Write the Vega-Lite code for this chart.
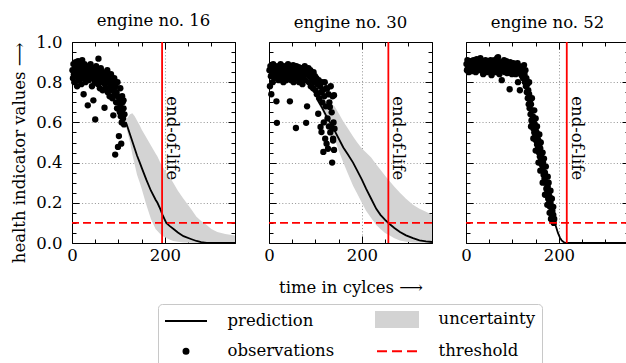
{
  "$schema": "https://vega.github.io/schema/vega-lite/v6.json",
  "padding": {"left": 11, "top": 12, "right": 0, "bottom": 0},
  "spacing": 23,
  "datasets": {
    "obs": [
      {"e":16,"t":1,"v":0.86},{"e":16,"t":2,"v":0.82},{"e":16,"t":3,"v":0.89},{"e":16,"t":4,"v":0.84},{"e":16,"t":5,"v":0.80},{"e":16,"t":6,"v":0.87},{"e":16,"t":7,"v":0.85},{"e":16,"t":8,"v":0.90},{"e":16,"t":9,"v":0.83},{"e":16,"t":10,"v":0.88},
      {"e":16,"t":11,"v":0.78},{"e":16,"t":12,"v":0.86},{"e":16,"t":13,"v":0.905},{"e":16,"t":14,"v":0.84},{"e":16,"t":15,"v":0.81},{"e":16,"t":16,"v":0.87},{"e":16,"t":17,"v":0.89},{"e":16,"t":18,"v":0.83},{"e":16,"t":19,"v":0.86},{"e":16,"t":20,"v":0.79},
      {"e":16,"t":21,"v":0.88},{"e":16,"t":22,"v":0.91},{"e":16,"t":23,"v":0.85},{"e":16,"t":24,"v":0.82},{"e":16,"t":25,"v":0.74},{"e":16,"t":26,"v":0.87},{"e":16,"t":27,"v":0.89},{"e":16,"t":28,"v":0.84},{"e":16,"t":29,"v":0.80},{"e":16,"t":30,"v":0.86},
      {"e":16,"t":31,"v":0.88},{"e":16,"t":32,"v":0.83},{"e":16,"t":34,"v":0.685},{"e":16,"t":35,"v":0.85},{"e":16,"t":36,"v":0.81},{"e":16,"t":37,"v":0.87},{"e":16,"t":38,"v":0.84},{"e":16,"t":40,"v":0.89},{"e":16,"t":41,"v":0.82},{"e":16,"t":42,"v":0.86},
      {"e":16,"t":43,"v":0.78},{"e":16,"t":44,"v":0.84},{"e":16,"t":46,"v":0.71},{"e":16,"t":47,"v":0.87},{"e":16,"t":48,"v":0.83},{"e":16,"t":49,"v":0.80},{"e":16,"t":50,"v":0.615},{"e":16,"t":51,"v":0.85},{"e":16,"t":52,"v":0.88},{"e":16,"t":53,"v":0.82},
      {"e":16,"t":55,"v":0.84},{"e":16,"t":56,"v":0.79},{"e":16,"t":57,"v":0.917},{"e":16,"t":58,"v":0.86},{"e":16,"t":59,"v":0.81},{"e":16,"t":60,"v":0.77},{"e":16,"t":61,"v":0.84},{"e":16,"t":62,"v":0.87},{"e":16,"t":63,"v":0.80},{"e":16,"t":65,"v":0.83},
      {"e":16,"t":66,"v":0.76},{"e":16,"t":67,"v":0.85},{"e":16,"t":68,"v":0.81},{"e":16,"t":70,"v":0.673},{"e":16,"t":71,"v":0.79},{"e":16,"t":72,"v":0.84},{"e":16,"t":73,"v":0.77},{"e":16,"t":74,"v":0.82},{"e":16,"t":76,"v":0.86},{"e":16,"t":77,"v":0.75},
      {"e":16,"t":78,"v":0.80},{"e":16,"t":79,"v":0.83},{"e":16,"t":81,"v":0.73},{"e":16,"t":82,"v":0.81},{"e":16,"t":83,"v":0.78},{"e":16,"t":84,"v":0.84},{"e":16,"t":85,"v":0.76},{"e":16,"t":86,"v":0.80},{"e":16,"t":87,"v":0.72},{"e":16,"t":88,"v":0.79},
      {"e":16,"t":89,"v":0.635},{"e":16,"t":90,"v":0.77},{"e":16,"t":91,"v":0.82},{"e":16,"t":92,"v":0.74},{"e":16,"t":93,"v":0.44},{"e":16,"t":94,"v":0.78},{"e":16,"t":95,"v":0.70},{"e":16,"t":96,"v":0.75},{"e":16,"t":97,"v":0.67},{"e":16,"t":98,"v":0.80},
      {"e":16,"t":98,"v":0.73},{"e":16,"t":99,"v":0.478},{"e":16,"t":100,"v":0.668},{"e":16,"t":101,"v":0.532},{"e":16,"t":102,"v":0.71},{"e":16,"t":103,"v":0.65},{"e":16,"t":104,"v":0.77},{"e":16,"t":104,"v":0.69},{"e":16,"t":105,"v":0.63},{"e":16,"t":106,"v":0.494},
      {"e":16,"t":107,"v":0.60},{"e":16,"t":108,"v":0.73},{"e":16,"t":108,"v":0.66},{"e":16,"t":109,"v":0.70},{"e":16,"t":110,"v":0.62},{"e":16,"t":111,"v":0.71},{"e":16,"t":111,"v":0.67},{"e":16,"t":112,"v":0.59},{"e":16,"t":113,"v":0.64},

      {"e":30,"t":1,"v":0.86},{"e":30,"t":2,"v":0.78},{"e":30,"t":3,"v":0.88},{"e":30,"t":4,"v":0.83},{"e":30,"t":5,"v":0.74},{"e":30,"t":6,"v":0.87},{"e":30,"t":7,"v":0.85},{"e":30,"t":8,"v":0.80},{"e":30,"t":9,"v":0.89},{"e":30,"t":10,"v":0.84},
      {"e":30,"t":11,"v":0.87},{"e":30,"t":12,"v":0.82},{"e":30,"t":13,"v":0.88},{"e":30,"t":14,"v":0.85},{"e":30,"t":16,"v":0.705},{"e":30,"t":17,"v":0.598},{"e":30,"t":18,"v":0.86},{"e":30,"t":19,"v":0.83},{"e":30,"t":20,"v":0.88},{"e":30,"t":21,"v":0.81},
      {"e":30,"t":22,"v":0.87},{"e":30,"t":24,"v":0.84},{"e":30,"t":25,"v":0.89},{"e":30,"t":26,"v":0.82},{"e":30,"t":27,"v":0.86},{"e":30,"t":28,"v":0.83},{"e":30,"t":30,"v":0.88},{"e":30,"t":31,"v":0.80},{"e":30,"t":32,"v":0.85},{"e":30,"t":33,"v":0.87},
      {"e":30,"t":35,"v":0.83},{"e":30,"t":36,"v":0.88},{"e":30,"t":37,"v":0.81},{"e":30,"t":38,"v":0.86},{"e":30,"t":40,"v":0.84},{"e":30,"t":41,"v":0.89},{"e":30,"t":42,"v":0.82},{"e":30,"t":43,"v":0.86},{"e":30,"t":45,"v":0.705},{"e":30,"t":46,"v":0.85},
      {"e":30,"t":47,"v":0.88},{"e":30,"t":48,"v":0.81},{"e":30,"t":50,"v":0.87},{"e":30,"t":51,"v":0.83},{"e":30,"t":52,"v":0.885},{"e":30,"t":53,"v":0.80},{"e":30,"t":55,"v":0.86},{"e":30,"t":56,"v":0.84},{"e":30,"t":58,"v":0.572},{"e":30,"t":59,"v":0.88},
      {"e":30,"t":60,"v":0.82},{"e":30,"t":61,"v":0.86},{"e":30,"t":63,"v":0.83},{"e":30,"t":64,"v":0.875},{"e":30,"t":65,"v":0.80},{"e":30,"t":67,"v":0.85},{"e":30,"t":68,"v":0.82},{"e":30,"t":70,"v":0.87},{"e":30,"t":71,"v":0.84},{"e":30,"t":72,"v":0.79},
      {"e":30,"t":74,"v":0.86},{"e":30,"t":75,"v":0.83},{"e":30,"t":77,"v":0.88},{"e":30,"t":78,"v":0.81},{"e":30,"t":80,"v":0.598},{"e":30,"t":81,"v":0.85},{"e":30,"t":82,"v":0.68},{"e":30,"t":83,"v":0.84},{"e":30,"t":85,"v":0.87},{"e":30,"t":86,"v":0.80},
      {"e":30,"t":88,"v":0.83},{"e":30,"t":89,"v":0.86},{"e":30,"t":90,"v":0.78},{"e":30,"t":92,"v":0.84},{"e":30,"t":93,"v":0.81},{"e":30,"t":95,"v":0.77},{"e":30,"t":96,"v":0.85},{"e":30,"t":98,"v":0.80},{"e":30,"t":99,"v":0.83},{"e":30,"t":100,"v":0.76},
      {"e":30,"t":102,"v":0.82},{"e":30,"t":103,"v":0.74},{"e":30,"t":104,"v":0.79},{"e":30,"t":106,"v":0.643},{"e":30,"t":107,"v":0.81},{"e":30,"t":108,"v":0.72},{"e":30,"t":110,"v":0.78},{"e":30,"t":111,"v":0.577},{"e":30,"t":112,"v":0.75},{"e":30,"t":113,"v":0.552},
      {"e":30,"t":114,"v":0.80},{"e":30,"t":115,"v":0.70},{"e":30,"t":116,"v":0.76},{"e":30,"t":117,"v":0.453},{"e":30,"t":118,"v":0.60},{"e":30,"t":119,"v":0.73},{"e":30,"t":120,"v":0.80},{"e":30,"t":121,"v":0.519},{"e":30,"t":122,"v":0.68},{"e":30,"t":123,"v":0.77},
      {"e":30,"t":124,"v":0.494},{"e":30,"t":125,"v":0.768},{"e":30,"t":126,"v":0.62},{"e":30,"t":127,"v":0.469},{"e":30,"t":128,"v":0.74},{"e":30,"t":129,"v":0.58},{"e":30,"t":130,"v":0.70},{"e":30,"t":131,"v":0.677},{"e":30,"t":132,"v":0.55},{"e":30,"t":133,"v":0.78},
      {"e":30,"t":134,"v":0.577},{"e":30,"t":135,"v":0.65},{"e":30,"t":136,"v":0.40},{"e":30,"t":137,"v":0.73},{"e":30,"t":138,"v":0.519},{"e":30,"t":139,"v":0.60},{"e":30,"t":140,"v":0.463},{"e":30,"t":141,"v":0.569},{"e":30,"t":140,"v":0.735},{"e":30,"t":138,"v":0.51},

      {"e":52,"t":1,"v":0.89},{"e":52,"t":2,"v":0.86},{"e":52,"t":3,"v":0.91},{"e":52,"t":4,"v":0.87},{"e":52,"t":5,"v":0.895},{"e":52,"t":6,"v":0.85},{"e":52,"t":7,"v":0.90},{"e":52,"t":8,"v":0.88},{"e":52,"t":9,"v":0.865},{"e":52,"t":10,"v":0.905},
      {"e":52,"t":11,"v":0.87},{"e":52,"t":12,"v":0.89},{"e":52,"t":13,"v":0.855},{"e":52,"t":14,"v":0.90},{"e":52,"t":15,"v":0.88},{"e":52,"t":16,"v":0.91},{"e":52,"t":17,"v":0.86},{"e":52,"t":18,"v":0.895},{"e":52,"t":19,"v":0.875},{"e":52,"t":20,"v":0.90},
      {"e":52,"t":21,"v":0.85},{"e":52,"t":22,"v":0.89},{"e":52,"t":23,"v":0.915},{"e":52,"t":24,"v":0.87},{"e":52,"t":25,"v":0.895},{"e":52,"t":26,"v":0.86},{"e":52,"t":27,"v":0.90},{"e":52,"t":28,"v":0.88},{"e":52,"t":29,"v":0.91},{"e":52,"t":30,"v":0.865},
      {"e":52,"t":31,"v":0.92},{"e":52,"t":32,"v":0.89},{"e":52,"t":33,"v":0.87},{"e":52,"t":34,"v":0.90},{"e":52,"t":35,"v":0.855},{"e":52,"t":36,"v":0.885},{"e":52,"t":37,"v":0.84},{"e":52,"t":38,"v":0.905},{"e":52,"t":39,"v":0.87},{"e":52,"t":40,"v":0.89},
      {"e":52,"t":41,"v":0.86},{"e":52,"t":42,"v":0.91},{"e":52,"t":43,"v":0.875},{"e":52,"t":44,"v":0.895},{"e":52,"t":45,"v":0.85},{"e":52,"t":46,"v":0.90},{"e":52,"t":47,"v":0.88},{"e":52,"t":48,"v":0.865},{"e":52,"t":49,"v":0.905},{"e":52,"t":50,"v":0.87},
      {"e":52,"t":51,"v":0.89},{"e":52,"t":52,"v":0.855},{"e":52,"t":53,"v":0.91},{"e":52,"t":54,"v":0.88},{"e":52,"t":55,"v":0.835},{"e":52,"t":56,"v":0.895},{"e":52,"t":57,"v":0.87},{"e":52,"t":58,"v":0.90},{"e":52,"t":59,"v":0.86},{"e":52,"t":60,"v":0.885},
      {"e":52,"t":61,"v":0.91},{"e":52,"t":62,"v":0.865},{"e":52,"t":63,"v":0.89},{"e":52,"t":64,"v":0.85},{"e":52,"t":65,"v":0.905},{"e":52,"t":66,"v":0.875},{"e":52,"t":67,"v":0.92},{"e":52,"t":68,"v":0.86},{"e":52,"t":69,"v":0.925},{"e":52,"t":70,"v":0.88},
      {"e":52,"t":71,"v":0.895},{"e":52,"t":72,"v":0.84},{"e":52,"t":73,"v":0.90},{"e":52,"t":74,"v":0.87},{"e":52,"t":75,"v":0.885},{"e":52,"t":76,"v":0.855},{"e":52,"t":77,"v":0.81},{"e":52,"t":78,"v":0.90},{"e":52,"t":79,"v":0.87},{"e":52,"t":80,"v":0.895},
      {"e":52,"t":81,"v":0.86},{"e":52,"t":82,"v":0.91},{"e":52,"t":83,"v":0.875},{"e":52,"t":84,"v":0.85},{"e":52,"t":85,"v":0.89},{"e":52,"t":86,"v":0.865},{"e":52,"t":87,"v":0.905},{"e":52,"t":88,"v":0.88},{"e":52,"t":89,"v":0.845},{"e":52,"t":90,"v":0.895},
      {"e":52,"t":91,"v":0.87},{"e":52,"t":92,"v":0.885},{"e":52,"t":93,"v":0.855},{"e":52,"t":94,"v":0.765},{"e":52,"t":95,"v":0.90},{"e":52,"t":96,"v":0.875},{"e":52,"t":97,"v":0.86},{"e":52,"t":98,"v":0.89},{"e":52,"t":99,"v":0.84},{"e":52,"t":100,"v":0.88},
      {"e":52,"t":101,"v":0.865},{"e":52,"t":102,"v":0.895},{"e":52,"t":103,"v":0.85},{"e":52,"t":104,"v":0.875},{"e":52,"t":105,"v":0.89},{"e":52,"t":106,"v":0.86},{"e":52,"t":107,"v":0.84},{"e":52,"t":108,"v":0.885},{"e":52,"t":109,"v":0.87},{"e":52,"t":110,"v":0.85},
      {"e":52,"t":111,"v":0.895},{"e":52,"t":112,"v":0.80},{"e":52,"t":113,"v":0.87},{"e":52,"t":114,"v":0.855},{"e":52,"t":115,"v":0.88},{"e":52,"t":116,"v":0.76},{"e":52,"t":117,"v":0.865},{"e":52,"t":118,"v":0.84},{"e":52,"t":119,"v":0.875},{"e":52,"t":120,"v":0.85},
      {"e":52,"t":121,"v":0.83},{"e":52,"t":122,"v":0.87},{"e":52,"t":123,"v":0.82},{"e":52,"t":124,"v":0.855},{"e":52,"t":125,"v":0.885},{"e":52,"t":126,"v":0.84},{"e":52,"t":127,"v":0.80},{"e":52,"t":128,"v":0.86},{"e":52,"t":129,"v":0.78},{"e":52,"t":130,"v":0.82},
      {"e":52,"t":131,"v":0.75},{"e":52,"t":132,"v":0.79},{"e":52,"t":133,"v":0.72},{"e":52,"t":134,"v":0.76},{"e":52,"t":135,"v":0.69},{"e":52,"t":136,"v":0.74},{"e":52,"t":137,"v":0.67},{"e":52,"t":138,"v":0.71},{"e":52,"t":139,"v":0.64},{"e":52,"t":140,"v":0.69},
      {"e":52,"t":141,"v":0.61},{"e":52,"t":142,"v":0.66},{"e":52,"t":143,"v":0.59},{"e":52,"t":144,"v":0.63},{"e":52,"t":145,"v":0.57},{"e":52,"t":146,"v":0.61},{"e":52,"t":147,"v":0.55},{"e":52,"t":148,"v":0.59},{"e":52,"t":149,"v":0.53},{"e":52,"t":150,"v":0.57},
      {"e":52,"t":151,"v":0.51},{"e":52,"t":152,"v":0.55},{"e":52,"t":153,"v":0.49},{"e":52,"t":154,"v":0.53},{"e":52,"t":155,"v":0.47},{"e":52,"t":156,"v":0.51},{"e":52,"t":157,"v":0.45},{"e":52,"t":158,"v":0.49},{"e":52,"t":159,"v":0.43},{"e":52,"t":160,"v":0.47},
      {"e":52,"t":161,"v":0.41},{"e":52,"t":162,"v":0.44},{"e":52,"t":163,"v":0.39},{"e":52,"t":164,"v":0.42},{"e":52,"t":165,"v":0.37},{"e":52,"t":166,"v":0.40},{"e":52,"t":167,"v":0.34},{"e":52,"t":168,"v":0.38},{"e":52,"t":169,"v":0.32},{"e":52,"t":170,"v":0.35},
      {"e":52,"t":171,"v":0.30},{"e":52,"t":172,"v":0.33},{"e":52,"t":173,"v":0.27},{"e":52,"t":174,"v":0.30},{"e":52,"t":175,"v":0.25},{"e":52,"t":176,"v":0.28},{"e":52,"t":177,"v":0.22},{"e":52,"t":178,"v":0.25},{"e":52,"t":179,"v":0.20},{"e":52,"t":180,"v":0.23},
      {"e":52,"t":181,"v":0.18},{"e":52,"t":182,"v":0.20},{"e":52,"t":183,"v":0.15},{"e":52,"t":184,"v":0.18},{"e":52,"t":185,"v":0.13},{"e":52,"t":186,"v":0.16},{"e":52,"t":187,"v":0.11},{"e":52,"t":188,"v":0.14},{"e":52,"t":189,"v":0.10},{"e":52,"t":190,"v":0.12},
      {"e":52,"t":136,"v":0.80},{"e":52,"t":142,"v":0.72},{"e":52,"t":147,"v":0.66},{"e":52,"t":150,"v":0.62},{"e":52,"t":153,"v":0.58},{"e":52,"t":158,"v":0.54},{"e":52,"t":161,"v":0.50},{"e":52,"t":165,"v":0.45},{"e":52,"t":168,"v":0.42},{"e":52,"t":172,"v":0.38},
      {"e":52,"t":176,"v":0.33},{"e":52,"t":178,"v":0.30},{"e":52,"t":182,"v":0.26},{"e":52,"t":185,"v":0.22},{"e":52,"t":188,"v":0.18},{"e":52,"t":140,"v":0.58},{"e":52,"t":145,"v":0.52},{"e":52,"t":150,"v":0.46},{"e":52,"t":156,"v":0.40},{"e":52,"t":160,"v":0.36},
      {"e":52,"t":165,"v":0.30},{"e":52,"t":170,"v":0.24},{"e":52,"t":175,"v":0.19},{"e":52,"t":180,"v":0.15},{"e":52,"t":183,"v":0.12}
    ],
    "pred": [
      {"e":16,"t":116,"v":0.60,"lo":0.585,"hi":0.61},{"e":16,"t":120,"v":0.575,"lo":0.545,"hi":0.625},{"e":16,"t":125,"v":0.54,"lo":0.50,"hi":0.64},{"e":16,"t":130,"v":0.505,"lo":0.44,"hi":0.645},
      {"e":16,"t":135,"v":0.47,"lo":0.39,"hi":0.63},{"e":16,"t":140,"v":0.435,"lo":0.34,"hi":0.61},{"e":16,"t":146,"v":0.40,"lo":0.30,"hi":0.585},{"e":16,"t":150,"v":0.375,"lo":0.27,"hi":0.565},
      {"e":16,"t":160,"v":0.315,"lo":0.19,"hi":0.525},{"e":16,"t":170,"v":0.26,"lo":0.12,"hi":0.485},{"e":16,"t":180,"v":0.215,"lo":0.07,"hi":0.445},{"e":16,"t":184,"v":0.20,"lo":0.06,"hi":0.43},
      {"e":16,"t":190,"v":0.17,"lo":0.045,"hi":0.40},{"e":16,"t":195,"v":0.14,"lo":0.035,"hi":0.38},{"e":16,"t":203,"v":0.10,"lo":0.025,"hi":0.35},{"e":16,"t":210,"v":0.085,"lo":0.017,"hi":0.33},
      {"e":16,"t":218,"v":0.071,"lo":0.01,"hi":0.30},{"e":16,"t":228,"v":0.052,"lo":0.006,"hi":0.26},{"e":16,"t":240,"v":0.034,"lo":0.003,"hi":0.22},{"e":16,"t":256,"v":0.02,"lo":0.001,"hi":0.17},
      {"e":16,"t":268,"v":0.01,"lo":0,"hi":0.13},{"e":16,"t":278,"v":0.004,"lo":0,"hi":0.11},{"e":16,"t":290,"v":0.001,"lo":0,"hi":0.09},{"e":16,"t":300,"v":0,"lo":0,"hi":0.07},
      {"e":16,"t":313,"v":0,"lo":0,"hi":0.055},{"e":16,"t":330,"v":0,"lo":0,"hi":0.045},{"e":16,"t":351,"v":0,"lo":0,"hi":0.037},

      {"e":30,"t":105,"v":0.71,"lo":0.70,"hi":0.72},{"e":30,"t":115,"v":0.67,"lo":0.655,"hi":0.70},{"e":30,"t":125,"v":0.625,"lo":0.60,"hi":0.71},{"e":30,"t":135,"v":0.585,"lo":0.555,"hi":0.69},
      {"e":30,"t":141,"v":0.56,"lo":0.52,"hi":0.68},{"e":30,"t":150,"v":0.52,"lo":0.46,"hi":0.645},{"e":30,"t":160,"v":0.475,"lo":0.40,"hi":0.605},{"e":30,"t":170,"v":0.44,"lo":0.345,"hi":0.57},
      {"e":30,"t":181,"v":0.40,"lo":0.285,"hi":0.53},{"e":30,"t":190,"v":0.36,"lo":0.245,"hi":0.50},{"e":30,"t":200,"v":0.315,"lo":0.20,"hi":0.47},{"e":30,"t":209,"v":0.27,"lo":0.16,"hi":0.45},
      {"e":30,"t":220,"v":0.22,"lo":0.125,"hi":0.425},{"e":30,"t":231,"v":0.17,"lo":0.09,"hi":0.39},{"e":30,"t":240,"v":0.14,"lo":0.07,"hi":0.365},{"e":30,"t":250,"v":0.115,"lo":0.05,"hi":0.335},
      {"e":30,"t":259,"v":0.096,"lo":0.038,"hi":0.31},{"e":30,"t":270,"v":0.075,"lo":0.024,"hi":0.28},{"e":30,"t":282,"v":0.055,"lo":0.013,"hi":0.25},{"e":30,"t":295,"v":0.038,"lo":0.006,"hi":0.22},
      {"e":30,"t":310,"v":0.024,"lo":0.003,"hi":0.19},{"e":30,"t":324,"v":0.013,"lo":0.001,"hi":0.17},{"e":30,"t":338,"v":0.008,"lo":0,"hi":0.155},{"e":30,"t":351,"v":0.005,"lo":0,"hi":0.14},

      {"e":52,"t":186,"v":0.14,"lo":0.135,"hi":0.145},{"e":52,"t":190,"v":0.11,"lo":0.104,"hi":0.116},{"e":52,"t":194,"v":0.08,"lo":0.074,"hi":0.086},{"e":52,"t":198,"v":0.05,"lo":0.045,"hi":0.056},
      {"e":52,"t":202,"v":0.028,"lo":0.024,"hi":0.033},{"e":52,"t":206,"v":0.013,"lo":0.01,"hi":0.017},{"e":52,"t":210,"v":0.005,"lo":0.003,"hi":0.008},{"e":52,"t":214,"v":0.001,"lo":0,"hi":0.003},
      {"e":52,"t":220,"v":0,"lo":0,"hi":0.001},{"e":52,"t":351,"v":0,"lo":0,"hi":0}
    ],
    "eol": [{"e":16,"t":194},{"e":30,"t":257},{"e":52,"t":217}],
    "thr": [{"v":0.1}]
  },
  "hconcat": [
    {
      "width": 163, "height": 201,
      "title": {"text": "engine no. 16", "font": "DejaVu Serif", "fontSize": 16.5, "fontWeight": "normal", "color": "black", "anchor": "middle", "frame": "group", "baseline": "alphabetic", "offset": -8},
      "resolve": {"axis": {"x": "independent", "y": "independent"}},
      "layer": [
        {
          "data": {"name": "pred"}, "transform": [{"filter": "datum.e === 16"}],
          "mark": {"type": "area"},
          "encoding": {
            "x": {"field": "t", "type": "quantitative", "scale": {"domain": [0, 351], "nice": false, "zero": false},
              "axis": {"orient": "bottom", "values": [0,50,100,150,200,250,300,350], "format": "d", "labelExpr": "datum.value % 200 === 0 ? datum.label : ''",
                "tickSize": {"condition": {"test": "datum.value % 200 === 0", "value": -7}, "value": -4}, "labelPadding": 11.5,
                "grid": true, "gridOpacity": {"condition": {"test": "datum.value === 200", "value": 1}, "value": 0}, "title": null}},
            "y": {"field": "lo", "type": "quantitative", "scale": {"domain": [0, 1], "nice": false},
              "axis": {"orient": "left", "values": [0,0.05,0.1,0.15,0.2,0.25,0.3,0.35,0.4,0.45,0.5,0.55,0.6,0.65,0.7,0.75,0.8,0.85,0.9,0.95,1],
                "labelExpr": "abs(datum.value*5 - round(datum.value*5)) < 0.001 ? format(datum.value, '.1f') : ''",
                "tickSize": {"condition": {"test": "abs(datum.value*5 - round(datum.value*5)) < 0.001", "value": -7}, "value": -4}, "labelPadding": 17,
                "grid": true, "gridOpacity": {"condition": {"test": "abs(datum.value*5 - round(datum.value*5)) < 0.001 && datum.value > 0.01 && datum.value < 0.99", "value": 1}, "value": 0},
                "title": "health indicator values ⟶", "titlePadding": 8, "titleAnchor": "end"}},
            "y2": {"field": "hi"},
            "color": {"datum": "uncertainty", "type": "nominal",
              "scale": {"domain": ["prediction", "observations", "uncertainty", "threshold"], "range": ["black", "black", "#d3d3d3", "red"]},
              "legend": {
                "orient": "none", "legendX": 86, "legendY": 262, "title": null, "columns": 2, "columnPadding": 37, "rowPadding": 12,
                "padding": 7, "strokeColor": "#c8c8c8", "cornerRadius": 4, "fillColor": "white",
                "labelFont": "DejaVu Serif", "labelFontSize": 16.5, "labelColor": "black", "labelOffset": 46,
                "symbolSize": 100, "symbolStrokeWidth": 2,
                "encode": {"symbols": {"update": {
                  "x": {"value": 21},
                  "shape": {"signal": "datum.value === 'observations' ? 'M0.5,0A0.5,0.5,0,1,1,-0.5,0A0.5,0.5,0,1,1,0.5,0Z' : datum.value === 'uncertainty' ? 'M-4.2,-1.5H4.2V1.5H-4.2Z' : datum.value === 'threshold' ? 'M-4,0H-2M-1,0H1M2,0H4' : 'M-4.2,0H4.2'"},
                  "fill": {"signal": "datum.value === 'observations' ? 'black' : datum.value === 'uncertainty' ? '#d3d3d3' : 'transparent'"},
                  "stroke": {"signal": "datum.value === 'prediction' ? 'black' : datum.value === 'threshold' ? 'red' : 'transparent'"},
                  "strokeWidth": {"value": 2},
                  "opacity": {"value": 1}
                }}}
              }}
          }
        },
        {
          "data": {"name": "pred"}, "transform": [{"filter": "datum.e === 16"}],
          "mark": {"type": "line", "strokeWidth": 1.8},
          "encoding": {
            "x": {"field": "t", "type": "quantitative",
              "axis": {"orient": "top", "values": [0,50,100,150,200,250,300,350], "labels": false, "grid": false, "title": null,
                "tickSize": {"condition": {"test": "datum.value % 200 === 0", "value": -7}, "value": -4}}},
            "y": {"field": "v", "type": "quantitative",
              "axis": {"orient": "right", "values": [0,0.05,0.1,0.15,0.2,0.25,0.3,0.35,0.4,0.45,0.5,0.55,0.6,0.65,0.7,0.75,0.8,0.85,0.9,0.95,1], "labels": false, "grid": false, "title": null,
                "tickSize": {"condition": {"test": "abs(datum.value*5 - round(datum.value*5)) < 0.001", "value": -7}, "value": -4}}},
            "color": {"datum": "prediction", "type": "nominal"}
          }
        },
        {
          "data": {"name": "obs"}, "transform": [{"filter": "datum.e === 16"}],
          "mark": {"type": "circle", "size": 40, "opacity": 1},
          "encoding": {
            "x": {"field": "t", "type": "quantitative", "axis": null},
            "y": {"field": "v", "type": "quantitative", "axis": null},
            "color": {"datum": "observations", "type": "nominal"}
          }
        },
        {
          "data": {"name": "thr"},
          "mark": {"type": "rule", "strokeWidth": 1.8, "strokeDash": [8, 4]},
          "encoding": {
            "y": {"field": "v", "type": "quantitative", "axis": null},
            "color": {"datum": "threshold", "type": "nominal"}
          }
        },
        {
          "data": {"name": "eol"}, "transform": [{"filter": "datum.e === 16"}],
          "mark": {"type": "rule", "color": "red", "strokeWidth": 1.8},
          "encoding": {"x": {"field": "t", "type": "quantitative", "axis": null}}
        },
        {
          "data": {"name": "eol"}, "transform": [{"filter": "datum.e === 16"}],
          "mark": {"type": "text", "angle": 90, "align": "left", "baseline": "middle", "dy": -10, "font": "DejaVu Serif", "fontSize": 16.5, "color": "black"},
          "encoding": {
            "x": {"field": "t", "type": "quantitative", "axis": null},
            "y": {"datum": 0.73, "type": "quantitative", "axis": null},
            "text": {"value": "end-of-life"}
          }
        }
      ]
    },
    {
      "width": 163, "height": 201,
      "title": {"text": "engine no. 30", "font": "DejaVu Serif", "fontSize": 16.5, "fontWeight": "normal", "color": "black", "anchor": "middle", "frame": "group", "baseline": "alphabetic", "offset": -3},
      "resolve": {"axis": {"x": "independent", "y": "independent"}},
      "layer": [
        {
          "data": {"name": "pred"}, "transform": [{"filter": "datum.e === 30"}],
          "mark": {"type": "area", "color": "#d3d3d3"},
          "encoding": {
            "x": {"field": "t", "type": "quantitative", "scale": {"domain": [0, 351], "nice": false, "zero": false},
              "axis": {"orient": "bottom", "values": [0,50,100,150,200,250,300,350], "format": "d", "labelExpr": "datum.value % 200 === 0 ? datum.label : ''",
                "tickSize": {"condition": {"test": "datum.value % 200 === 0", "value": -7}, "value": -4}, "labelPadding": 11.5,
                "grid": true, "gridOpacity": {"condition": {"test": "datum.value === 200", "value": 1}, "value": 0},
                "title": "time in cylces ⟶", "titlePadding": 12}},
            "y": {"field": "lo", "type": "quantitative", "scale": {"domain": [0, 1], "nice": false},
              "axis": {"orient": "left", "values": [0,0.05,0.1,0.15,0.2,0.25,0.3,0.35,0.4,0.45,0.5,0.55,0.6,0.65,0.7,0.75,0.8,0.85,0.9,0.95,1],
                "labels": false,
                "tickSize": {"condition": {"test": "abs(datum.value*5 - round(datum.value*5)) < 0.001", "value": -7}, "value": -4},
                "grid": true, "gridOpacity": {"condition": {"test": "abs(datum.value*5 - round(datum.value*5)) < 0.001 && datum.value > 0.01 && datum.value < 0.99", "value": 1}, "value": 0},
                "title": null}},
            "y2": {"field": "hi"}
          }
        },
        {
          "data": {"name": "pred"}, "transform": [{"filter": "datum.e === 30"}],
          "mark": {"type": "line", "strokeWidth": 1.8, "color": "black"},
          "encoding": {
            "x": {"field": "t", "type": "quantitative",
              "axis": {"orient": "top", "values": [0,50,100,150,200,250,300,350], "labels": false, "grid": false, "title": null,
                "tickSize": {"condition": {"test": "datum.value % 200 === 0", "value": -7}, "value": -4}}},
            "y": {"field": "v", "type": "quantitative",
              "axis": {"orient": "right", "values": [0,0.05,0.1,0.15,0.2,0.25,0.3,0.35,0.4,0.45,0.5,0.55,0.6,0.65,0.7,0.75,0.8,0.85,0.9,0.95,1], "labels": false, "grid": false, "title": null,
                "tickSize": {"condition": {"test": "abs(datum.value*5 - round(datum.value*5)) < 0.001", "value": -7}, "value": -4}}}
          }
        },
        {
          "data": {"name": "obs"}, "transform": [{"filter": "datum.e === 30"}],
          "mark": {"type": "circle", "size": 40, "opacity": 1, "color": "black"},
          "encoding": {
            "x": {"field": "t", "type": "quantitative", "axis": null},
            "y": {"field": "v", "type": "quantitative", "axis": null}
          }
        },
        {
          "data": {"name": "thr"},
          "mark": {"type": "rule", "strokeWidth": 1.8, "strokeDash": [8, 4], "color": "red"},
          "encoding": {"y": {"field": "v", "type": "quantitative", "axis": null}}
        },
        {
          "data": {"name": "eol"}, "transform": [{"filter": "datum.e === 30"}],
          "mark": {"type": "rule", "color": "red", "strokeWidth": 1.8},
          "encoding": {"x": {"field": "t", "type": "quantitative", "axis": null}}
        },
        {
          "data": {"name": "eol"}, "transform": [{"filter": "datum.e === 30"}],
          "mark": {"type": "text", "angle": 90, "align": "left", "baseline": "middle", "dy": -10, "font": "DejaVu Serif", "fontSize": 16.5, "color": "black"},
          "encoding": {
            "x": {"field": "t", "type": "quantitative", "axis": null},
            "y": {"datum": 0.73, "type": "quantitative", "axis": null},
            "text": {"value": "end-of-life"}
          }
        }
      ]
    },
    {
      "width": 163, "height": 201,
      "title": {"text": "engine no. 52", "font": "DejaVu Serif", "fontSize": 16.5, "fontWeight": "normal", "color": "black", "anchor": "middle", "frame": "group", "baseline": "alphabetic", "offset": -3},
      "resolve": {"axis": {"x": "independent", "y": "independent"}},
      "layer": [
        {
          "data": {"name": "pred"}, "transform": [{"filter": "datum.e === 52"}],
          "mark": {"type": "area", "color": "#d3d3d3"},
          "encoding": {
            "x": {"field": "t", "type": "quantitative", "scale": {"domain": [0, 351], "nice": false, "zero": false},
              "axis": {"orient": "bottom", "values": [0,50,100,150,200,250,300,350], "format": "d", "labelExpr": "datum.value % 200 === 0 ? datum.label : ''",
                "tickSize": {"condition": {"test": "datum.value % 200 === 0", "value": -7}, "value": -4}, "labelPadding": 11.5,
                "grid": true, "gridOpacity": {"condition": {"test": "datum.value === 200", "value": 1}, "value": 0}, "title": null}},
            "y": {"field": "lo", "type": "quantitative", "scale": {"domain": [0, 1], "nice": false},
              "axis": {"orient": "left", "values": [0,0.05,0.1,0.15,0.2,0.25,0.3,0.35,0.4,0.45,0.5,0.55,0.6,0.65,0.7,0.75,0.8,0.85,0.9,0.95,1],
                "labels": false,
                "tickSize": {"condition": {"test": "abs(datum.value*5 - round(datum.value*5)) < 0.001", "value": -7}, "value": -4},
                "grid": true, "gridOpacity": {"condition": {"test": "abs(datum.value*5 - round(datum.value*5)) < 0.001 && datum.value > 0.01 && datum.value < 0.99", "value": 1}, "value": 0},
                "title": null}},
            "y2": {"field": "hi"}
          }
        },
        {
          "data": {"name": "pred"}, "transform": [{"filter": "datum.e === 52"}],
          "mark": {"type": "line", "strokeWidth": 1.8, "color": "black"},
          "encoding": {
            "x": {"field": "t", "type": "quantitative",
              "axis": {"orient": "top", "values": [0,50,100,150,200,250,300,350], "labels": false, "grid": false, "title": null,
                "tickSize": {"condition": {"test": "datum.value % 200 === 0", "value": -7}, "value": -4}}},
            "y": {"field": "v", "type": "quantitative",
              "axis": {"orient": "right", "values": [0,0.05,0.1,0.15,0.2,0.25,0.3,0.35,0.4,0.45,0.5,0.55,0.6,0.65,0.7,0.75,0.8,0.85,0.9,0.95,1], "labels": false, "grid": false, "title": null,
                "tickSize": {"condition": {"test": "abs(datum.value*5 - round(datum.value*5)) < 0.001", "value": -7}, "value": -4}}}
          }
        },
        {
          "data": {"name": "obs"}, "transform": [{"filter": "datum.e === 52"}],
          "mark": {"type": "circle", "size": 40, "opacity": 1, "color": "black"},
          "encoding": {
            "x": {"field": "t", "type": "quantitative", "axis": null},
            "y": {"field": "v", "type": "quantitative", "axis": null}
          }
        },
        {
          "data": {"name": "thr"},
          "mark": {"type": "rule", "strokeWidth": 1.8, "strokeDash": [8, 4], "color": "red"},
          "encoding": {"y": {"field": "v", "type": "quantitative", "axis": null}}
        },
        {
          "data": {"name": "eol"}, "transform": [{"filter": "datum.e === 52"}],
          "mark": {"type": "rule", "color": "red", "strokeWidth": 1.8},
          "encoding": {"x": {"field": "t", "type": "quantitative", "axis": null}}
        },
        {
          "data": {"name": "eol"}, "transform": [{"filter": "datum.e === 52"}],
          "mark": {"type": "text", "angle": 90, "align": "left", "baseline": "middle", "dy": -10, "font": "DejaVu Serif", "fontSize": 16.5, "color": "black"},
          "encoding": {
            "x": {"field": "t", "type": "quantitative", "axis": null},
            "y": {"datum": 0.73, "type": "quantitative", "axis": null},
            "text": {"value": "end-of-life"}
          }
        }
      ]
    }
  ],
  "config": {
    "font": "DejaVu Serif",
    "view": {"stroke": "black", "strokeWidth": 1},
    "axis": {
      "domain": false, "minExtent": 0,
      "labelFont": "DejaVu Serif", "labelFontSize": 16.5, "labelColor": "black",
      "labelFlush": false, "labelOverlap": false,
      "titleFont": "DejaVu Serif", "titleFontSize": 16.5, "titleFontWeight": "normal", "titleColor": "black",
      "tickColor": "black", "tickWidth": 1,
      "gridColor": "#777777", "gridDash": [1, 2.2], "gridWidth": 0.8
    },
    "title": {"font": "DejaVu Serif", "fontSize": 16.5, "fontWeight": "normal", "color": "black", "anchor": "middle", "frame": "group", "baseline": "alphabetic"}
  }
}
